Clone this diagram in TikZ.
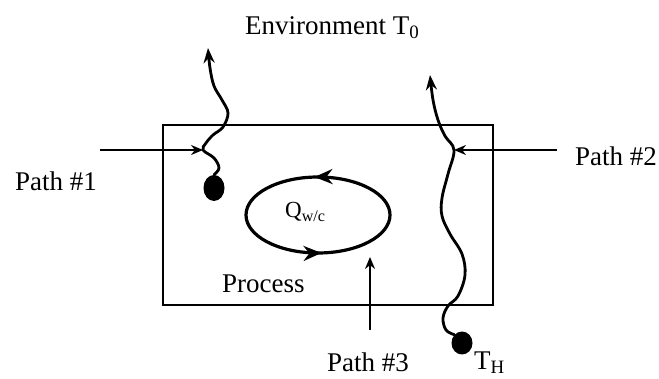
\documentclass[tikz,border=0pt]{standalone}
\usepackage{fontspec}
\setmainfont{Liberation Serif}
\usetikzlibrary{arrows.meta,decorations.markings,shapes.geometric}
\begin{document}
\begin{tikzpicture}[x=1pt,y=-1pt,
  lbl/.style={font=\fontsize{27}{29}\selectfont, inner sep=0pt},
  wig/.style={line width=2.8pt, -{Stealth[length=15pt,width=11pt]}, line cap=round},
  ptr/.style={line width=1.8pt, -{Stealth[length=12pt,width=10pt]}},
  ball/.style={ellipse, fill=black, inner sep=0pt},
  cyc/.style={line width=3.2pt, postaction={decorate},
    decoration={markings,
      mark=at position 0.26 with {\arrow{Stealth[length=18pt,width=15pt]}},
      mark=at position 0.76 with {\arrow{Stealth[length=18pt,width=15pt]}}}},
]
\useasboundingbox (0,0) rectangle (659,379);
\fill[white] (0,0) rectangle (659,379);
\node[draw, line width=2pt, minimum width=330pt, minimum height=180pt, inner sep=0pt] (box) at (328,215) {};

\node[lbl, anchor=base west] (env) at (245,35) {Environment T\textsubscript{0}};
\node[lbl, anchor=base west] (p1) at (15,191) {Path \#1};
\node[lbl, anchor=base west] (p2) at (575,166) {Path \#2};
\node[lbl, anchor=base west] (p3) at (327,372) {Path \#3};
\node[lbl, anchor=base west] (proc) at (222,293) {Process};
\node[lbl, anchor=base west, font=\fontsize{23}{25}\selectfont] (q) at (285,218) {Q\textsubscript{w/c}};
\node[lbl, anchor=base west] (th) at (474,370) {T\textsubscript{H}};

\node[ball, minimum width=21pt, minimum height=26pt] (b1) at (214,188) {};
\node[ball, minimum width=21pt, minimum height=23pt] (b2) at (462,343) {};

\coordinate (j1) at (203,150);
\coordinate (j2) at (454,150);
\coordinate (t1) at (208,48);
\coordinate (t2) at (430,75);
\coordinate (s1) at (100,150);
\coordinate (s2) at (557,150);
\coordinate (s3) at (370,330);
\coordinate (e3) at (370,257);

\draw[wig] plot[smooth, tension=0.6] coordinates {(b1.north) (219,168) (214,158) (j1) (206,143) (213,135) (223,127) (228,113) (222,100) (214,86) (210,68) (t1)};
\draw[wig] plot[smooth, tension=0.6] coordinates {(b2.north west) (446,330) (443,318) (448,306) (458,296) (465,275) (462,254) (450,234) (442,216) (442,198) (448,174) (j2) (445,136) (438,120) (433,100) (t2)};

\draw[ptr] (s1) -- (j1);
\draw[ptr] (s2) -- (j2);
\draw[ptr] (s3) -- (e3);

\draw[cyc] (390,215) arc[start angle=0, end angle=-360, x radius=72, y radius=38];
\end{tikzpicture}
\end{document}
